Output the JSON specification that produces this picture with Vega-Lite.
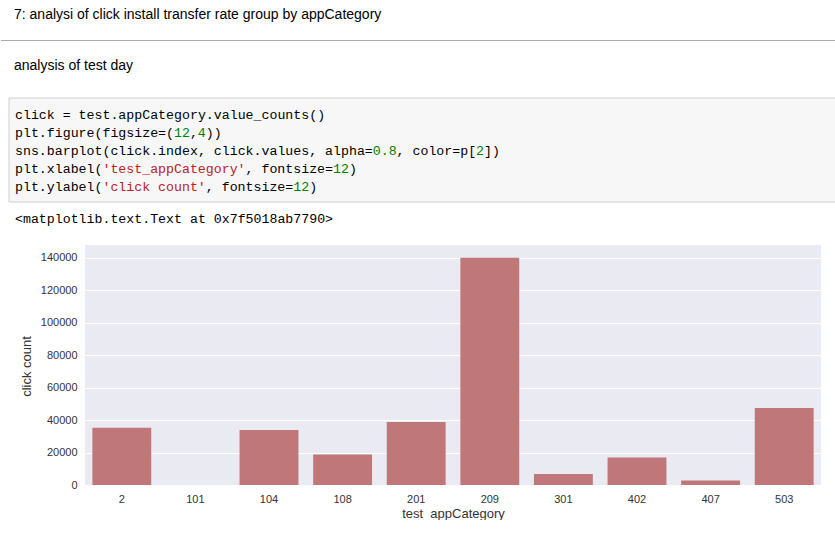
{
  "$schema": "https://vega.github.io/schema/vega-lite/v6.json",
  "padding": 0,
  "background": "white",
  "spacing": 0,
  "config": {"view": {"stroke": null}},
  "vconcat": [
    {
      "width": 751,
      "height": 97,
      "layer": [
        {
          "data": {"values": [
            {"line": 0, "text": "7: analysi of click install transfer rate group by appCategory"},
            {"line": 2, "text": "analysis of test day"}
          ]},
          "mark": {"type": "text", "align": "left", "baseline": "middle", "dx": 13, "font": "Liberation Sans", "fontSize": 14, "color": "#000000"},
          "encoding": {
            "x": {"datum": 0, "type": "quantitative", "scale": {"domain": [0, 1], "range": [-84, 751], "nice": false, "zero": false}, "axis": null},
            "y": {"field": "line", "type": "quantitative", "scale": {"domain": [-0.588, 3.216], "reverse": true, "nice": false, "zero": false}, "axis": null},
            "text": {"field": "text"}
          }
        },
        {
          "data": {"values": [{"line": 1}]},
          "mark": {"type": "rule", "color": "#ababab", "strokeWidth": 1},
          "encoding": {
            "x": {"datum": 0, "type": "quantitative"},
            "x2": {"datum": 1},
            "y": {"field": "line", "type": "quantitative"}
          }
        }
      ]
    },
    {
      "width": 751,
      "height": 104,
      "layer": [
        {
          "data": {"values": [{"box": "code cell"}]},
          "mark": {"type": "rect", "fill": "#f7f7f7", "stroke": "#cfcfcf", "strokeWidth": 1},
          "encoding": {
            "x": {"datum": 0, "type": "quantitative", "scale": {"domain": [0, 104.03], "range": [-76, 751], "nice": false, "zero": false}, "axis": null},
            "x2": {"datum": 104.8},
            "y": {"datum": -0.969, "type": "quantitative", "scale": {"domain": [-0.969, 4.857], "reverse": true, "nice": false, "zero": false}, "axis": null},
            "y2": {"datum": 4.857}
          }
        },
        {
          "data": {"values": [
            {"line": 0, "col": 0, "kind": "code", "text": "click = test.appCategory.value_counts()"},
            {"line": 1, "col": 0, "kind": "code", "text": "plt.figure(figsize=("},
            {"line": 1, "col": 20, "kind": "number", "text": "12"},
            {"line": 1, "col": 22, "kind": "code", "text": ","},
            {"line": 1, "col": 23, "kind": "number", "text": "4"},
            {"line": 1, "col": 24, "kind": "code", "text": "))"},
            {"line": 2, "col": 0, "kind": "code", "text": "sns.barplot(click.index, click.values, alpha="},
            {"line": 2, "col": 45, "kind": "number", "text": "0.8"},
            {"line": 2, "col": 48, "kind": "code", "text": ", color=p["},
            {"line": 2, "col": 58, "kind": "number", "text": "2"},
            {"line": 2, "col": 59, "kind": "code", "text": "])"},
            {"line": 3, "col": 0, "kind": "code", "text": "plt.xlabel("},
            {"line": 3, "col": 11, "kind": "string", "text": "'test_appCategory'"},
            {"line": 3, "col": 29, "kind": "code", "text": ", fontsize="},
            {"line": 3, "col": 40, "kind": "number", "text": "12"},
            {"line": 3, "col": 42, "kind": "code", "text": ")"},
            {"line": 4, "col": 0, "kind": "code", "text": "plt.ylabel("},
            {"line": 4, "col": 11, "kind": "string", "text": "'click count'"},
            {"line": 4, "col": 24, "kind": "code", "text": ", fontsize="},
            {"line": 4, "col": 35, "kind": "number", "text": "12"},
            {"line": 4, "col": 37, "kind": "code", "text": ")"}
          ]},
          "mark": {"type": "text", "align": "left", "baseline": "middle", "dx": 6, "font": "Liberation Mono", "fontSize": 13.25},
          "encoding": {
            "x": {"field": "col", "type": "quantitative"},
            "y": {"field": "line", "type": "quantitative"},
            "text": {"field": "text"},
            "color": {"field": "kind", "type": "nominal", "scale": {"domain": ["code", "number", "string"], "range": ["#000000", "#008000", "#ba2121"]}, "legend": null}
          }
        }
      ]
    },
    {
      "width": 751,
      "height": 42,
      "data": {"values": [{"line": 0, "text": "<matplotlib.text.Text at 0x7f5018ab7790>"}]},
      "mark": {"type": "text", "align": "left", "baseline": "middle", "dx": 14, "font": "Liberation Mono", "fontSize": 13.25, "color": "#000000"},
      "encoding": {
        "x": {"datum": 0, "type": "quantitative", "scale": {"domain": [0, 1], "range": [-84, 751], "nice": false, "zero": false}, "axis": null},
        "y": {"field": "line", "type": "quantitative", "scale": {"domain": [-1, 1.675], "reverse": true, "nice": false, "zero": false}, "axis": null},
        "text": {"field": "text"}
      }
    },
    {
      "width": 736,
      "height": 240,
      "view": {"fill": "#EAEAF2", "stroke": null},
      "data": {"values": [
        {"appCategory": "2", "clicks": 35200},
        {"appCategory": "101", "clicks": 60},
        {"appCategory": "104", "clicks": 33800},
        {"appCategory": "108", "clicks": 18800},
        {"appCategory": "201", "clicks": 38700},
        {"appCategory": "209", "clicks": 139800},
        {"appCategory": "301", "clicks": 6800},
        {"appCategory": "402", "clicks": 17000},
        {"appCategory": "407", "clicks": 2700},
        {"appCategory": "503", "clicks": 47400}
      ]},
      "mark": {"type": "bar", "color": "#C0777A"},
      "encoding": {
        "x": {
          "field": "appCategory", "type": "nominal", "sort": null,
          "scale": {"paddingInner": 0.2, "paddingOuter": 0.1},
          "axis": {"title": "test_appCategory", "labelAngle": 0, "ticks": false, "domain": false, "grid": false,
                   "labelPadding": 8, "labelFontSize": 11, "labelFont": "Liberation Sans", "labelColor": "#333333",
                   "titleFontSize": 13, "titleFont": "Liberation Sans", "titleColor": "#333333", "titleFontWeight": "normal", "titlePadding": 3}
        },
        "y": {
          "field": "clicks", "type": "quantitative",
          "scale": {"domain": [0, 147700], "nice": false},
          "axis": {"title": "click count", "values": [0, 20000, 40000, 60000, 80000, 100000, 120000, 140000], "format": "d",
                   "grid": true, "gridColor": "#ffffff", "gridWidth": 1, "domain": false,
                   "ticks": false, "labelPadding": 8,
                   "labelFontSize": 11, "labelFont": "Liberation Sans", "labelColor": "#333333",
                   "titleX": -58.3, "titleY": 121, "titleAngle": -90, "titleAlign": "center", "titleBaseline": "middle",
                   "titleFontSize": 13, "titleFont": "Liberation Sans", "titleColor": "#333333", "titleFontWeight": "normal"}
        }
      }
    }
  ]
}
